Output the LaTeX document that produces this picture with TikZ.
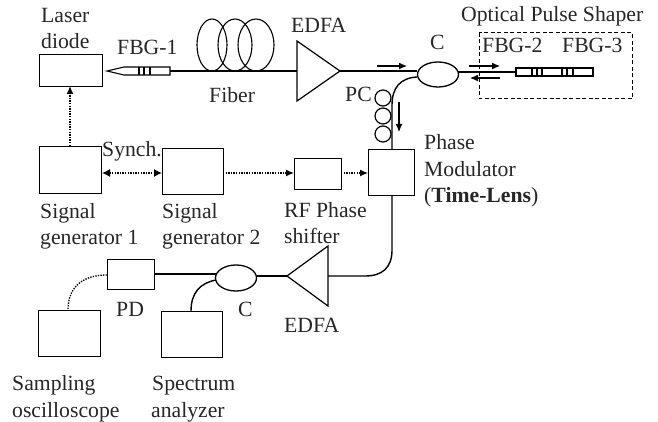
\documentclass[tikz,border=0pt]{standalone}
\usepackage{fontspec}
\setmainfont{Liberation Serif}
\usetikzlibrary{arrows.meta,shapes.geometric}
\tikzset{
  x=1pt,y=-1pt,
  lbl/.style={inner sep=0pt,font=\fontsize{21.7}{24}\selectfont,anchor=base west,text=black!85},
  boxn/.style={draw,line width=1.3pt,inner sep=0pt,anchor=north west},
  fib/.style={line width=1.4pt},
  dot/.style={line width=1.3pt,dash pattern=on 1.4pt off 1.2pt},
  tip/.style={-{Latex[length=8pt,width=7pt]}},
  dtip/.style={{Latex[length=8pt,width=8pt]}-{Latex[length=8pt,width=8pt]}},
  ampn/.style={line width=1.2pt},
  thinp/.style={line width=1.1pt},
}
\begin{document}
\begin{tikzpicture}
\useasboundingbox (0,0) rectangle (658,422);
\node[boxn,minimum width=63pt,minimum height=32pt] (laser) at (39,54) {};
\node[boxn,minimum width=62pt,minimum height=47pt] (gena) at (39,146) {};
\node[boxn,minimum width=61pt,minimum height=46pt] (genb) at (162,148) {};
\node[boxn,minimum width=47pt,minimum height=31pt] (rf) at (294,158) {};
\node[boxn,minimum width=46pt,minimum height=46pt] (pm) at (368,149) {};
\node[boxn,minimum width=47pt,minimum height=30pt] (pd) at (107,259) {};
\node[boxn,minimum width=62pt,minimum height=46pt] (scope) at (38,310) {};
\node[boxn,minimum width=61pt,minimum height=46pt] (spec) at (161,311) {};
% coordinates
\coordinate (fbgtip) at (107,71);
\coordinate (fbgend) at (170,71);
\coordinate (edfaIn) at (297,71);
\coordinate (edfaOut) at (340,71);
% FBG-1
\draw[thinp] (fbgtip) -- (124,67) -- (170,67) -- (170,75) -- (124,75) -- cycle;
\foreach \x in {139,144,150}{\draw[thinp] (\x,67) -- (\x,75);}
% fibre coil
\foreach \cx/\rx in {212/15,235/17,256/18}{\draw[thinp] (\cx,45) ellipse [x radius=\rx,y radius=26];}
% EDFA 1
\draw[ampn] (297,41) -- (340,71) -- (297,101) -- cycle;
\draw[fib] (fbgend) -- (edfaIn);
% coupler 1
\node[draw,ellipse,line width=1.3pt,minimum width=41pt,minimum height=25pt,inner sep=0pt] (cone) at (438,74.5) {};
\coordinate (coneL) at (417,71);
\coordinate (coneR) at (458,72);
\coordinate (coneB) at (417,77);
\coordinate (fbgtwo) at (516,72);
\draw[fib] (edfaOut) -- (coneL);
\draw[fib] (coneR) -- (fbgtwo);
% FBG-2/3
\draw[line width=1.2pt] (516,68) rectangle (593,76);
\foreach \x in {532,537,542,562,567,573}{\draw[thinp] (\x,68) -- (\x,76);}
% dashed box
\draw[line width=1pt,dash pattern=on 4pt off 2.5pt] (479,33) rectangle (632,99);
% direction arrows
\coordinate (a1) at (377,66); \coordinate (a2) at (407,66);
\coordinate (b1) at (469,66); \coordinate (b2) at (500,66);
\coordinate (c1) at (500,78); \coordinate (c2) at (470,78);
\coordinate (d1) at (399,102); \coordinate (d2) at (399,132);
\foreach \s/\e in {a1/a2,b1/b2,c1/c2,d1/d2}{\draw[line width=1.1pt,tip] (\s) -- (\e);}
% PC
\foreach \y in {98,116,134}{\draw[line width=1.2pt] (383,\y) circle [radius=8];}
\coordinate (pmN) at (392,149);
\coordinate (pmS) at (392,195);
\draw[fib] (coneB) .. controls (400,78) and (392,88) .. (392,105) -- (pmN);
% PM to EDFA 2
\coordinate (edfbIn) at (328,276);
\coordinate (edfbOut) at (287,276);
\draw[fib] (pmS) -- (392,250) .. controls (392,268) and (382,276) .. (365,276) -- (edfbIn);
\draw[ampn] (328,246) -- (287,276) -- (328,306) -- cycle;
% coupler 2
\node[draw,ellipse,line width=1.3pt,minimum width=41pt,minimum height=26pt,inner sep=0pt] (ctwo) at (236,278) {};
\coordinate (ctwoR) at (257,276);
\coordinate (ctwoL) at (216,274);
\coordinate (ctwoB) at (216,280);
\coordinate (pdE) at (154,274);
\coordinate (pdW) at (107,275);
\coordinate (specN) at (191,311);
\coordinate (scopeN) at (68,310);
\draw[fib] (edfbOut) -- (ctwoR);
\draw[fib] (pdE) -- (ctwoL);
\draw[fib] (ctwoB) .. controls (200,283) and (191,293) .. (specN);
% dotted
\draw[dot] (pdW) .. controls (85,275) and (68,285) .. (scopeN);
\coordinate (genaN) at (70,146);
\coordinate (laserS) at (70,86);
\coordinate (genaE) at (102,173);
\coordinate (genbW) at (162,173);
\coordinate (genbE) at (223,173);
\coordinate (rfW) at (294,173);
\coordinate (rfE) at (341,173);
\coordinate (pmW) at (368,173);
\draw[dot,tip] (genaN) -- (laserS);
\draw[dot,dtip] (genaE) -- (genbW);
\draw[dot,tip] (genbE) -- (rfW);
\draw[dot,tip] (rfE) -- (pmW);
% labels
\node[lbl] (t1) at (41,23) {Laser};
\node[lbl] (t1b) at (41,49) {diode};
\node[lbl] (t2) at (117,55) {FBG-1};
\node[lbl] (t3) at (209,103) {Fiber};
\node[lbl] (t4) at (291,33) {EDFA};
\node[lbl] (t5) at (430,50) {C};
\node[lbl] (t6) at (461,22) {Optical Pulse Shaper};
\node[lbl] (t7) at (482,53) {FBG-2};
\node[lbl] (t8) at (562,53) {FBG-3};
\node[lbl] (t9) at (345,102) {PC};
\node[lbl] (t10) at (424,150) {Phase};
\node[lbl] (t10b) at (424,177) {Modulator};
\node[lbl] (t10c) at (424,203) {(\textbf{Time-Lens})};
\node[lbl] (t11) at (102,157) {Synch.};
\node[lbl] (t12) at (40,218) {Signal};
\node[lbl] (t12b) at (40,244) {generator 1};
\node[lbl] (t13) at (162,218) {Signal};
\node[lbl] (t13b) at (162,244) {generator 2};
\node[lbl] (t14) at (284,217) {RF Phase};
\node[lbl] (t14b) at (284,243) {shifter};
\node[lbl] (t15) at (116,316) {PD};
\node[lbl] (t16) at (238,316) {C};
\node[lbl] (t17) at (284,332) {EDFA};
\node[lbl] (t18) at (12,390) {Sampling};
\node[lbl] (t18b) at (12,417) {oscilloscope};
\node[lbl] (t19) at (152,390) {Spectrum};
\node[lbl] (t19b) at (151,417) {analyzer};
\end{tikzpicture}
\end{document}
